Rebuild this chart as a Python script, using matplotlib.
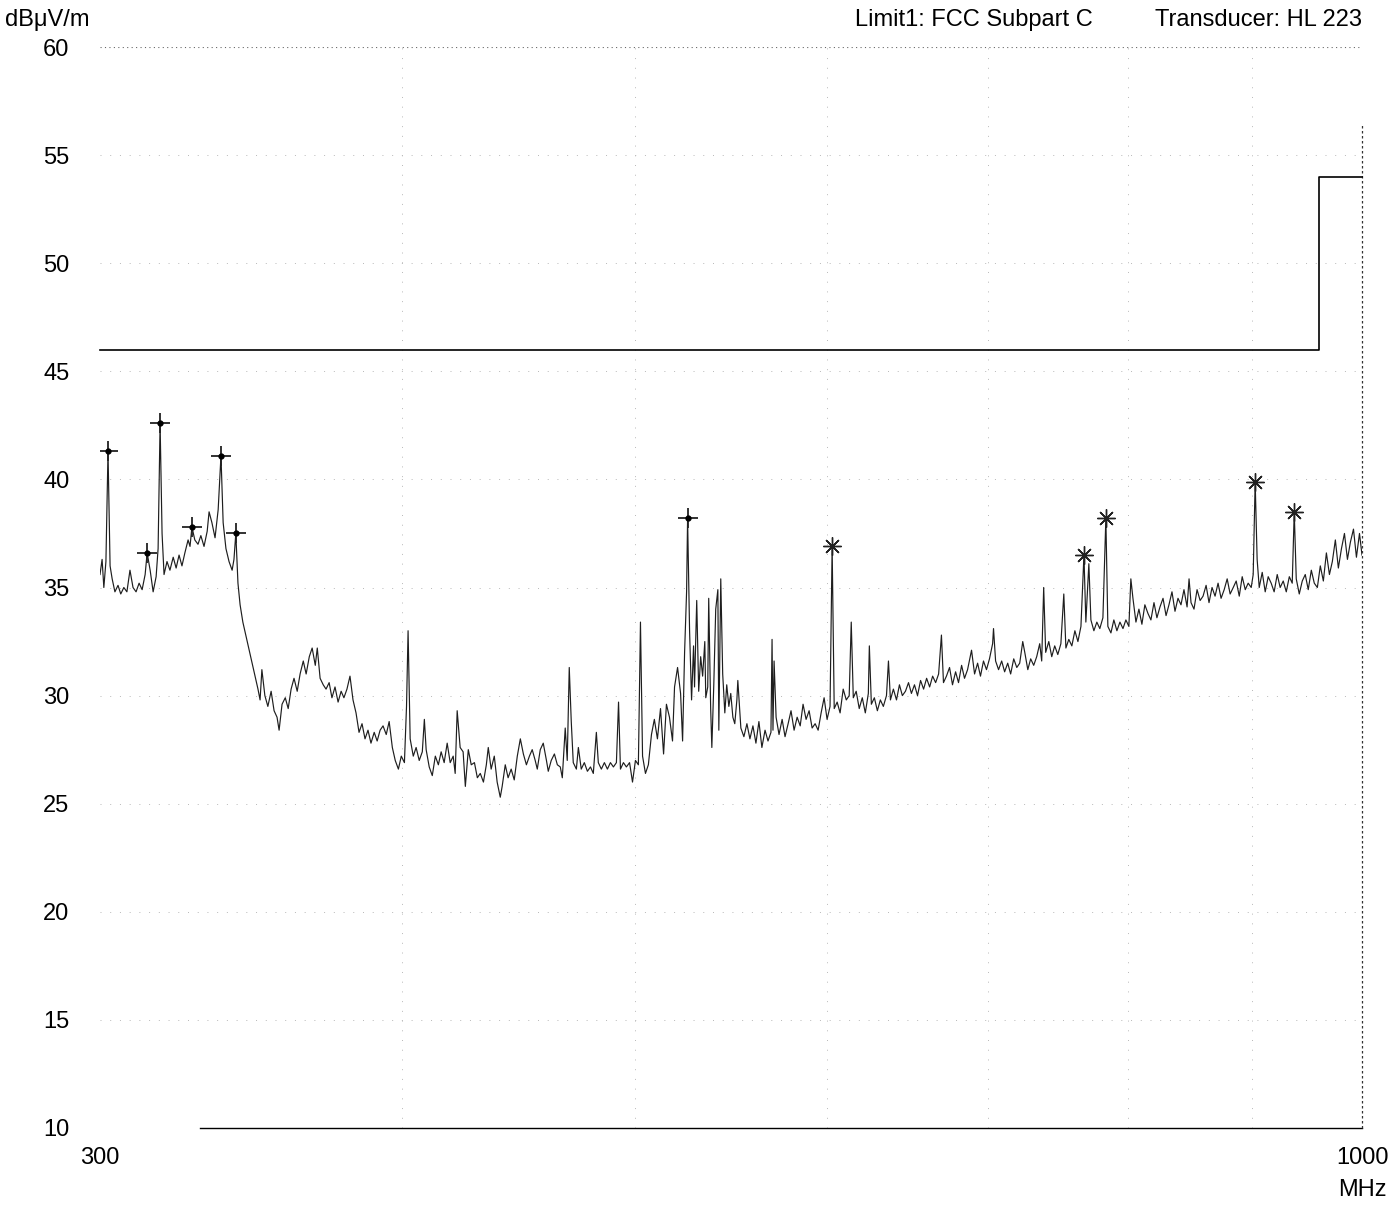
import numpy as np
import matplotlib
matplotlib.use("Agg")
import matplotlib.pyplot as plt

# sweep 300 MHz - 1 GHz, split in bands so the lists stay readable
band_a_mhz = [300.0, 300.6, 301.1, 301.7, 302.3, 302.9, 303.5, 304.3, 305.2, 306.0, 306.9, 307.8, 308.7, 309.6,
              310.5, 311.4, 312.3, 313.2, 313.8, 314.7, 315.6, 316.5, 317.1, 317.7, 318.3, 318.9, 319.8, 320.7,
              321.7, 322.6, 323.5, 324.4, 325.3, 326.3, 326.9, 327.5, 328.4, 329.4, 330.3, 331.3, 332.3, 332.9,
              333.8, 334.8, 335.8, 336.7, 337.4, 338.3, 339.3, 340.3, 340.9, 341.5, 342.2, 342.9, 343.8]
band_a_dbuv = [35.6, 36.3, 35.0, 36.2, 41.3, 36.0, 35.4, 34.8, 35.1, 34.7, 35.0, 34.8, 35.8, 35.0,
               34.8, 35.2, 34.9, 35.6, 36.6, 35.8, 34.8, 35.5, 36.8, 42.6, 37.5, 35.6, 36.2, 35.8,
               36.4, 35.9, 36.5, 36.0, 36.6, 37.2, 36.9, 37.8, 37.2, 37.0, 37.4, 36.9, 37.6, 38.5,
               38.0, 37.3, 38.6, 41.1, 38.0, 36.8, 36.2, 35.8, 36.3, 37.5, 35.2, 34.2, 33.4]

band_b_mhz = [348.8, 349.5, 350.1, 351.1, 352.1, 353.2, 354.2, 355.2, 355.9, 356.9, 358.0, 359.0, 360.0, 361.0,
              362.1, 363.1, 364.2, 365.2, 366.3, 367.3, 368.4, 369.1, 370.1, 371.2, 372.2, 373.3, 374.3, 375.4,
              376.5, 377.6, 378.6, 379.7, 380.8, 381.9, 383.0, 384.1, 385.2, 386.3, 387.4, 388.5, 389.7, 390.8,
              391.9, 393.0, 394.2, 395.3, 396.5, 397.6, 398.8, 399.9, 401.1, 401.9, 402.5, 403.3, 404.5, 405.6,
              406.8, 408.0, 408.8, 409.5, 410.7, 411.9, 413.1, 414.3, 415.4, 416.6]
band_b_dbuv = [30.3, 29.8, 31.2, 30.0, 29.5, 30.2, 29.3, 29.0, 28.4, 29.6, 29.9, 29.4, 30.3, 30.8,
               30.2, 31.0, 31.6, 31.0, 31.8, 32.2, 31.4, 32.2, 30.8, 30.5, 30.3, 30.6, 29.9, 30.4,
               29.7, 30.2, 29.9, 30.3, 30.9, 29.8, 29.2, 28.3, 28.7, 28.0, 28.4, 27.8, 28.3, 27.9,
               28.4, 28.6, 28.2, 28.8, 27.6, 27.0, 26.6, 27.2, 26.9, 29.5, 33.0, 28.0, 27.2, 27.6,
               27.0, 27.4, 28.9, 27.5, 26.7, 26.3, 27.2, 26.8, 27.4, 26.9]

band_c_mhz = [417.8, 419.0, 420.2, 421.0, 421.8, 423.0, 424.2, 425.1, 426.3, 427.5, 428.8, 430.0, 431.2, 432.5,
              433.7, 434.5, 435.7, 437.0, 438.2, 439.5, 440.3, 441.6, 442.8, 444.1, 445.4, 446.7, 448.0, 449.3,
              450.6, 451.9, 453.1, 454.4, 455.3, 456.6, 457.9, 459.3, 460.1, 461.4, 462.8, 464.1, 465.4, 466.3,
              467.6, 468.5, 469.4, 470.3, 471.2, 472.6, 473.5, 474.8, 476.2, 477.6, 479.0, 480.3, 481.7, 482.6,
              484.0, 485.4, 486.8, 488.2, 489.6, 491.0, 492.0, 492.9, 494.3, 495.7, 497.2, 498.6, 500.0, 501.4,
              502.4, 503.4, 504.8, 506.2, 507.7, 509.1, 510.6, 512.1]
band_c_dbuv = [27.8, 26.9, 27.2, 26.4, 29.3, 27.6, 27.4, 25.8, 27.5, 26.8, 26.9, 26.2, 26.4, 26.0,
               26.8, 27.6, 26.6, 27.2, 26.0, 25.3, 25.8, 26.8, 26.2, 26.6, 26.1, 27.2, 28.0, 27.3,
               26.8, 27.2, 27.5, 27.0, 26.6, 27.5, 27.8, 27.0, 26.5, 27.0, 27.3, 26.8, 26.7, 26.2,
               28.5, 27.0, 31.3, 28.8, 26.9, 26.6, 27.6, 26.6, 26.9, 26.5, 26.7, 26.4, 28.3, 26.9,
               26.6, 26.9, 26.6, 26.9, 26.7, 26.9, 29.7, 26.6, 26.9, 26.7, 26.9, 26.0, 27.0, 26.8,
               33.4, 27.2, 26.4, 26.8, 28.2, 28.9, 28.0, 29.4]

band_d_mhz = [513.6, 515.0, 516.5, 518.0, 519.0, 520.5, 522.0, 523.0, 524.0, 525.0, 525.5, 526.5, 527.5, 528.5,
              529.0, 530.1, 531.1, 532.1, 533.1, 534.2, 534.7, 535.7, 536.2, 537.2, 537.8, 538.8, 539.8, 540.9,
              541.4, 542.4, 543.4, 544.5, 545.5, 546.6, 547.6, 548.7, 549.7, 550.8, 551.3, 552.9, 554.5, 556.1,
              557.7, 559.3, 560.9, 562.5, 564.1, 565.8, 567.4, 569.0, 569.6, 570.1, 570.7, 571.8, 573.4, 575.1,
              576.7, 578.4, 580.0, 581.7, 583.4, 585.1, 586.7, 588.4, 590.1, 591.8, 593.5, 595.2, 596.9, 598.6,
              600.3, 602.0, 603.2, 604.4, 606.1, 607.8, 609.6, 611.4, 613.1, 614.3, 615.5, 617.2, 619.0, 620.8,
              622.6, 624.4, 625.0, 626.2, 628.0, 629.8, 631.6, 633.4, 635.3, 636.5, 637.7, 639.5, 641.4, 643.2,
              645.0, 646.9, 648.8, 650.6, 652.5, 654.4, 656.3, 658.2, 660.1, 662.0, 663.9, 665.8, 667.7, 669.5,
              670.8]
band_d_dbuv = [27.3, 29.6, 29.0, 27.9, 30.4, 31.3, 30.1, 27.9, 32.0, 34.8, 38.2, 33.0, 29.8, 32.3,
               30.4, 34.4, 30.2, 31.8, 30.9, 32.5, 29.9, 30.4, 34.5, 29.4, 27.6, 30.5, 34.0, 34.9,
               28.4, 35.4, 31.0, 29.2, 30.5, 29.5, 30.1, 29.0, 28.7, 29.8, 30.7, 28.5, 28.1, 28.7,
               28.0, 28.6, 27.8, 28.8, 27.6, 28.4, 27.9, 28.3, 32.6, 28.4, 31.6, 29.0, 28.2, 28.9,
               28.1, 28.7, 29.3, 28.4, 29.0, 28.6, 29.6, 28.9, 29.3, 28.5, 28.7, 28.4, 29.2, 29.9,
               28.9, 29.5, 36.9, 29.4, 29.7, 29.2, 30.3, 29.8, 30.0, 33.4, 29.9, 30.2, 29.4, 29.9,
               29.2, 30.1, 32.3, 29.6, 29.9, 29.3, 29.8, 29.5, 30.0, 31.6, 29.8, 30.3, 29.8, 30.5,
               30.0, 30.2, 30.6, 30.1, 30.5, 30.0, 30.7, 30.3, 30.8, 30.4, 30.9, 30.6, 31.0, 32.8,
               30.6]

band_e_mhz = [672.7, 674.7, 676.6, 678.6, 680.5, 682.5, 684.4, 686.4, 689.0, 691.0, 693.0, 694.9, 696.9, 698.9,
              700.9, 703.0, 703.6, 705.0, 707.0, 709.1, 711.1, 713.2, 715.2, 717.3, 719.4, 721.4, 723.5, 724.9,
              727.0, 729.0, 731.1, 733.2, 735.3, 736.7, 738.1, 739.5, 741.7, 743.8, 745.9, 748.1, 750.3, 752.4,
              753.9, 756.0, 758.2, 760.4, 762.6, 764.8, 767.0, 768.4, 770.6, 772.1, 774.3, 776.5, 778.7, 781.0,
              783.2, 784.7, 787.0, 789.2, 791.5, 793.8, 796.1, 798.3, 800.6, 802.1, 803.7, 806.0, 808.3, 810.6,
              812.9, 815.3, 817.6, 820.0, 822.3, 824.7, 827.1, 829.5, 831.8, 834.2, 836.6, 839.0, 841.4, 843.8,
              846.3, 847.9, 849.5, 851.9, 854.4, 856.9, 859.3, 861.8, 864.2, 866.7, 869.2, 871.7, 874.2, 876.8,
              879.3, 881.8, 884.4, 886.9, 889.5, 892.0, 894.6, 897.1, 899.7, 901.4, 903.1, 904.8, 906.6, 909.2,
              911.8, 914.4, 917.0, 919.6, 922.3, 924.9, 927.6, 930.3, 933.0, 935.6, 937.4, 939.2, 941.9, 944.6,
              947.3, 950.0, 952.8, 955.5, 958.3, 961.0, 963.8, 966.6, 969.4, 972.1, 974.9, 977.7, 980.6, 983.4,
              986.2, 989.0, 991.9, 994.7, 997.6, 1000.0]
band_e_dbuv = [30.9, 31.3, 30.5, 31.1, 30.6, 31.4, 30.8, 31.2, 32.1, 31.0, 31.5, 30.9, 31.6, 31.2,
               31.7, 32.4, 33.1, 31.6, 31.2, 31.6, 31.1, 31.5, 31.0, 31.7, 31.3, 31.5, 32.5, 32.0,
               31.2, 31.7, 31.4, 31.8, 32.4, 31.6, 35.0, 32.0, 32.5, 31.8, 32.3, 31.9, 32.4, 34.7,
               32.2, 32.6, 32.3, 33.0, 32.5, 33.2, 36.5, 33.4, 36.1, 33.5, 33.0, 33.4, 33.1, 33.6,
               38.2, 33.2, 32.9, 33.5, 33.0, 33.4, 33.1, 33.5, 33.2, 35.4, 34.5, 33.4, 34.0, 33.3,
               34.2, 33.8, 33.5, 34.3, 33.6, 34.1, 34.5, 33.7, 34.2, 34.8, 33.9, 34.5, 34.2, 34.9,
               34.1, 35.4, 34.3, 34.0, 34.9, 34.4, 34.6, 35.1, 34.3, 35.0, 34.6, 35.2, 34.5, 34.9,
               35.4, 34.7, 35.0, 35.3, 34.6, 35.5, 34.9, 35.2, 35.0, 35.6, 39.9, 36.3, 35.0, 35.7,
               34.8, 35.5, 35.2, 34.8, 35.6, 35.0, 35.3, 34.8, 35.5, 35.2, 38.5, 35.4, 34.7, 35.3,
               35.6, 34.9, 35.8, 35.2, 35.0, 36.0, 35.3, 36.6, 35.6, 36.2, 37.2, 35.9, 36.8, 37.5,
               36.3, 37.1, 37.7, 36.4, 37.5, 36.5]

# FCC limit: 46 dBuV/m up to 960 MHz, 54 dBuV/m above
limit_mhz = [300, 960, 1000]
limit_dbuv = [46, 54, 54]

# peak markers
plus_marks_mhz = [302.3, 313.8, 317.7, 327.5, 336.7, 341.5, 525.5]
star_marks_mhz = [603.2, 767.0, 783.2, 903.1, 937.4]

y_ticks = [10, 15, 20, 25, 30, 35, 40, 45, 50, 55, 60]
x_grid = [400, 500, 600, 700, 800, 900]

freq = band_a_mhz + band_b_mhz + band_c_mhz + band_d_mhz + band_e_mhz
level = band_a_dbuv + band_b_dbuv + band_c_dbuv + band_d_dbuv + band_e_dbuv


def level_at(f):
    return level[freq.index(f)]


plt.rcParams['font.family'] = ['Liberation Sans', 'DejaVu Sans']

fig = plt.figure(figsize=(13.96, 12.05), dpi=100)
ax = fig.add_axes([100 / 1396, 1 - 1128 / 1205, 1262 / 1396, 1081 / 1205])

ax.set_xscale('log')
ax.set_xlim(300, 1000)
ax.set_ylim(10, 60)

# sparse dotted grid
for y in y_ticks[1:-1]:
    ax.axhline(y, color='#b8b8b8', lw=0.7, ls=(0, (1, 9)), zorder=0)
for x in x_grid:
    ax.axvline(x, color='#b8b8b8', lw=0.7, ls=(0, (1, 9)), zorder=0)

for s in ax.spines.values():
    s.set_visible(False)
ax.axhline(60, color='#666666', lw=0.8, ls=(0, (1, 3)), zorder=1)
ax.plot([330, 1000], [10, 10], color='black', lw=1.0, zorder=1, clip_on=False)
ax.plot([1000, 1000], [10, 56.4], color='#333333', lw=0.9, ls=(0, (2, 2)), zorder=1, clip_on=False)

ax.step(limit_mhz, limit_dbuv, where='post', color='black', lw=1.2, zorder=3, clip_on=False)

ax.plot(freq, level, color='#1e1e1e', lw=0.85, zorder=2)

ax.plot(plus_marks_mhz, [level_at(f) for f in plus_marks_mhz], ls='none',
        marker='+', ms=15, mew=1.3, color='#222222', zorder=4)
ax.plot(plus_marks_mhz, [level_at(f) for f in plus_marks_mhz], ls='none',
        marker='o', ms=3.5, color='black', zorder=4)
ax.plot(star_marks_mhz, [level_at(f) for f in star_marks_mhz], ls='none',
        marker=(8, 2, 0), ms=13, mew=1.0, color='#222222', zorder=4)

ax.set_yticks(y_ticks)
ax.set_yticklabels([str(v) for v in y_ticks], fontsize=17)
ax.tick_params(axis='y', length=0, pad=22)
ax.set_xticks([300, 1000])
ax.set_xticklabels(['300', '1000'], fontsize=17)
ax.xaxis.set_minor_locator(matplotlib.ticker.NullLocator())
ax.tick_params(axis='x', length=0, pad=14)

ax.annotate('MHz', xy=(1000, 10), xytext=(0, -62), textcoords='offset pixels',
            ha='center', va='center', fontsize=17)

fig.text(5 / 1396, 1 - 20 / 1205, 'dB\u03bcV/m', ha='left', va='center', fontsize=17)
fig.text(1093 / 1396, 1 - 20 / 1205, 'Limit1: FCC Subpart C', ha='right', va='center', fontsize=17)
fig.text(1362 / 1396, 1 - 20 / 1205, 'Transducer: HL 223', ha='right', va='center', fontsize=17)

fig.savefig('out.png', dpi=100, facecolor='white')
